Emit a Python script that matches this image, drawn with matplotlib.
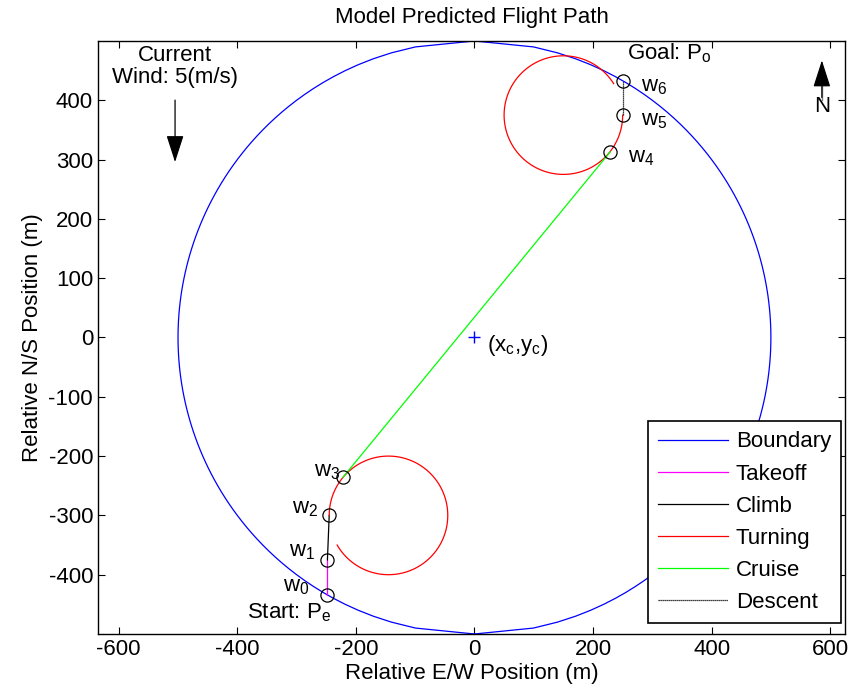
import numpy as np
import matplotlib
matplotlib.use("Agg")
import matplotlib.pyplot as plt

plt.rcParams["font.family"] = ["Liberation Sans", "DejaVu Sans"]
plt.rcParams["mathtext.fontset"] = "custom"
plt.rcParams["mathtext.rm"] = "Liberation Sans"
plt.rcParams["mathtext.it"] = "Liberation Sans"
plt.rcParams["axes.unicode_minus"] = False

# Boundary circle, sampled in y every 10 m (as in the original)
bound_radius = 500
bound_step = 10

# Waypoints w0..w6
wp_x = [-248, -248, -245, -222, 229, 250, 250]
wp_y = [-434, -375, -300, -236, 313, 375, 433]
wp_names = ["w$_0$", "w$_1$", "w$_2$", "w$_3$", "w$_4$", "w$_5$", "w$_6$"]

# Turning circles: center, radius, start / end angle (deg)
turn_lower = {"center": (-145, -300), "radius": 100, "start": 180, "end": -150}
turn_upper = {"center": (150, 375), "radius": 100, "start": 32, "end": 360}

wind_speed = 5
wind_pos = (-505, 405, 291)     # x, tail y, tip y
north_pos = (586, 400, 472)

FS = 16

fig = plt.figure(figsize=(8.55, 6.98), dpi=100)
ax = fig.add_axes([0.1146, 0.0917, 0.8737, 0.8496])

by = np.arange(-bound_radius, bound_radius + 1, bound_step)
bx = np.sqrt(np.clip(bound_radius ** 2 - by ** 2, 0, None))
ax.plot(np.concatenate([bx, -bx[::-1]]), np.concatenate([by, by[::-1]]),
        color="#0000ff", lw=0.9, label="Boundary")

# takeoff w0 -> w1
ax.plot(wp_x[0:2], wp_y[0:2], color="#ff00ff", lw=0.9, label="Takeoff")
# climb w1 -> w2
ax.plot(wp_x[1:3], wp_y[1:3], color="black", lw=0.9, label="Climb")


def arc(c):
    a = np.radians(np.linspace(c["start"], c["end"], 120))
    return (c["center"][0] + c["radius"] * np.cos(a),
            c["center"][1] + c["radius"] * np.sin(a))


lx, ly = arc(turn_lower)
ax.plot(lx, ly, color="#ff0000", lw=0.9, label="Turning")
ux, uy = arc(turn_upper)
ax.plot(ux, uy, color="#ff0000", lw=0.9)

# cruise w3 -> w4
ax.plot(wp_x[3:5], wp_y[3:5], color="#00ff00", lw=0.9, label="Cruise")
# descent w5 -> w6
ax.plot(wp_x[5:7], wp_y[5:7], color="black", lw=0.9, ls=(0, (1, 0.6)),
        label="Descent")

ax.plot(wp_x, wp_y, "o", mfc="none", mec="black", ms=9.5, mew=0.9)
ax.plot(0, 0, "+", color="#0000ff", ms=9, mew=1.0)

# waypoint labels (offsets in points)
offsets = [(-13, 6), (-9, 6), (-8, 5), (-2, 4), (13, -4), (13, -4), (13, -4)]
for i, name in enumerate(wp_names):
    ha = "right" if i < 4 else "left"
    ax.annotate(name, (wp_x[i], wp_y[i]), xytext=offsets[i],
                textcoords="offset points", ha=ha, va="center", fontsize=FS)

ax.annotate("Start: P$_\\mathrm{e}$", (wp_x[0], wp_y[0]), xytext=(3, -13),
            textcoords="offset points", ha="right", va="center", fontsize=FS)
ax.annotate("Goal: P$_\\mathrm{o}$", (wp_x[6], wp_y[6]), xytext=(3, 20),
            textcoords="offset points", ha="left", va="center", fontsize=FS)
ax.annotate("(x$_\\mathrm{c}$,y$_\\mathrm{c}$)", (0, 0), xytext=(9, -6),
            textcoords="offset points", ha="left", va="center", fontsize=FS)

# wind arrow
ax.annotate("", xy=(wind_pos[0], wind_pos[2]), xytext=(wind_pos[0], wind_pos[1]),
            arrowprops=dict(arrowstyle="-|>,head_length=1.4,head_width=0.45",
                            color="black", lw=0.9, mutation_scale=12))
ax.text(wind_pos[0], 457, "Current\nWind: %d(m/s)" % wind_speed,
        ha="center", va="center", fontsize=FS, linespacing=1.1)

# north arrow: grey shaft, black head
ax.annotate("", xy=(north_pos[0], north_pos[2]), xytext=(north_pos[0], north_pos[1]),
            arrowprops=dict(arrowstyle="-|>,head_length=1.4,head_width=0.45",
                            color="black", lw=0.9, mutation_scale=12))
ax.plot([north_pos[0], north_pos[0]], [north_pos[1], north_pos[1] + 30],
        color="#808080", lw=1.0)
ax.text(north_pos[0], 389, "N", ha="center", va="center", fontsize=FS)

ax.set_xlim(-635, 625)
ax.set_ylim(-500, 500)
ax.set_xticks(range(-600, 601, 200))
ax.set_yticks(range(-400, 401, 100))
ax.tick_params(direction="in", top=True, right=True, length=5, labelsize=FS,
               width=0.8)
for s in ax.spines.values():
    s.set_linewidth(1.0)

ax.set_title("Model Predicted Flight Path", fontsize=FS, pad=13)
ax.set_xlabel("Relative E/W Position (m)", fontsize=FS, labelpad=2)
ax.set_ylabel("Relative N/S Position (m)", fontsize=FS, labelpad=4)

leg = ax.legend(loc="lower right", bbox_to_anchor=(0.9946, 0.0186),
                borderaxespad=0, fontsize=FS, handlelength=3.15,
                handletextpad=0.35, labelspacing=0.5, fancybox=False,
                borderpad=0.45, framealpha=1, edgecolor="black")
leg.get_frame().set_linewidth(1.2)

fig.savefig("out.png", dpi=100)
